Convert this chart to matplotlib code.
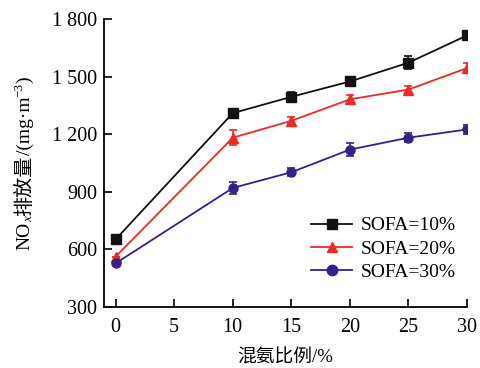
import matplotlib
matplotlib.use("Agg")
import matplotlib.pyplot as plt
from matplotlib.ticker import FuncFormatter
from matplotlib.lines import Line2D

x = [0, 10, 15, 20, 25, 30]
sofa10 = [652, 1310, 1395, 1475, 1573, 1715]
sofa20 = [562, 1182, 1270, 1382, 1433, 1545]
sofa30 = [527, 920, 1002, 1120, 1182, 1225]
err10 = [0, 22, 25, 22, 33, 25]
err20 = [0, 38, 18, 25, 18, 25]
err30 = [0, 33, 22, 33, 25, 25]
labels = ["SOFA=10%", "SOFA=20%", "SOFA=30%"]

plt.rcParams['font.family'] = ['Liberation Serif', 'Noto Sans CJK SC']

fig = plt.figure(figsize=(4.81, 3.68), dpi=100)
ax = fig.add_axes([0.216, 0.166, 0.755, 0.782])

styles = [("#111111", "s"), ("#ee2a24", "^"), ("#35208c", "o")]
handles = []
for ys, es, (c, m), lab in zip([sofa10, sofa20, sofa30], [err10, err20, err30], styles, labels):
    ax.errorbar(x, ys, yerr=es, color=c, marker=m, markersize=6.5, linewidth=1.3,
                capsize=3, elinewidth=1.2, capthick=1.2)
    handles.append(Line2D([], [], color=c, marker=m, markersize=7.5, linewidth=1.3, label=lab))

ax.set_xlim(-1, 30)
ax.set_ylim(300, 1800)
ax.set_xticks([0, 5, 10, 15, 20, 25, 30])
ax.set_yticks([300, 600, 900, 1200, 1500, 1800])
ax.yaxis.set_major_formatter(FuncFormatter(lambda v, p: f"{int(v):,}".replace(",", " ")))
ax.spines['top'].set_visible(False)
ax.spines['right'].set_visible(False)
for s in ['left', 'bottom']:
    ax.spines[s].set_linewidth(1.3)
ax.tick_params(direction='in', length=6, width=1.2, labelsize=14.5)
ax.tick_params(axis='x', pad=8)
ax.tick_params(axis='y', pad=5)

ax.set_xlabel("混氨比例/%", fontsize=13.5, labelpad=9)

ax.legend(handles=handles, loc='upper left', bbox_to_anchor=(0.55, 0.34), frameon=False, fontsize=14,
          handlelength=2.1, labelspacing=0.28, handletextpad=0.45, borderaxespad=0)

# y label built from pieces (rotated 90 deg), stacked bottom to top
fig.canvas.draw()
renderer = fig.canvas.get_renderer()
W, H = fig.get_size_inches() * fig.dpi
pieces = [
    ("NO", dict(fontsize=14, family=['Liberation Serif']), 0.0),
    ("x", dict(fontsize=9.5, family=['Liberation Serif'], style='italic'), -4.0),
    ("排放量", dict(fontsize=14.5, family=['Noto Sans CJK SC']), 0.0),
    ("/(mg·m", dict(fontsize=14, family=['Liberation Serif']), 0.0),
    ("−3", dict(fontsize=9.5, family=['Liberation Serif']), 6.0),
    (")", dict(fontsize=14, family=['Liberation Serif']), 0.0),
]
xc = 25.0
lens = []
for s, kw, off in pieces:
    t = fig.text(0, 0, s, rotation=90, **kw)
    bb = t.get_window_extent(renderer)
    lens.append(bb.height)
    t.remove()
total = sum(lens)
yc = 163.0  # center in pixels from top
ypos = (H - yc) - total / 2.0
for (s, kw, off), L in zip(pieces, lens):
    fig.text((xc - off) / W, ypos / H, s, rotation=90, rotation_mode='anchor',
             ha='left', va='center', **kw)
    ypos += L

fig.savefig("out.png", dpi=100)
